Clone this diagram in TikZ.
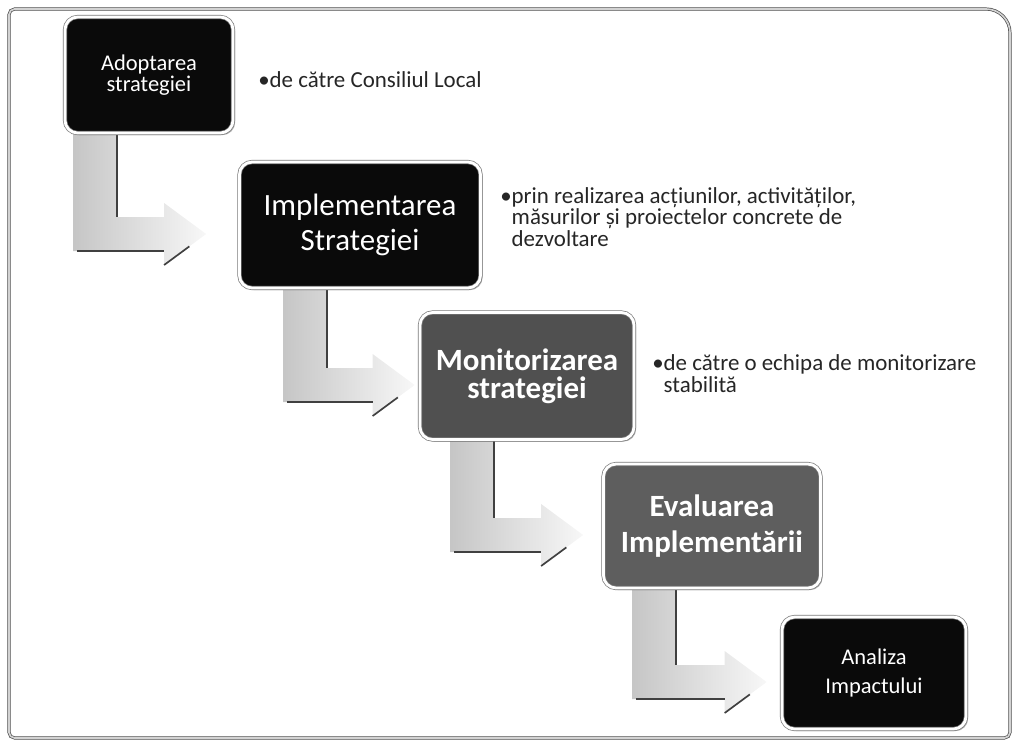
\documentclass[tikz,border=0pt]{standalone}
\usepackage{fontspec}
\setmainfont{Carlito}
\usepackage{tikz}
\usetikzlibrary{calc,shadows,backgrounds}
\definecolor{boxBlack}{HTML}{0A0A0A}
\definecolor{boxGrey}{HTML}{505050}
\definecolor{boxGreyL}{HTML}{5E5E5E}
\definecolor{ink}{HTML}{262626}
\definecolor{frameGrey}{HTML}{7A7A7A}

% bent block arrow: #1 from box, #2 to box, #3 shaft left x, #4 gap before box
\newcommand{\bentarrow}[4]{%
  \coordinate (top) at (#3,0 |- #1.south);
  \coordinate (tip) at ($(#2.west)+(-#4,9)$);
  \coordinate (inner) at ($(top)+(44,0)$);
  \coordinate (ut) at ($(tip)+(-42,-17)$);
  \coordinate (lt) at ($(tip)+(-42,17)$);
  \coordinate (uh) at ($(tip)+(-42,-31)$);
  \coordinate (lh) at ($(tip)+(-42,31)$);
  \shade[arrowfill] (top) -- (inner) -- (inner |- ut) -- (ut) -- (uh) -- (tip)
    -- (lh) -- (lt) -- (top |- lt) -- cycle;
  \draw[arrowedge] (inner) -- (inner |- ut);
  \draw[arrowedge] ($(top |- lt)+(4,0)$) -- (lt);
  \draw[arrowedge] (lh) -- ($(lh)!0.6!(tip)$);
}

\begin{document}
\begin{tikzpicture}[x=0.025cm,y=-0.025cm,
  stage/.style={rounded corners=9pt,draw=frameGrey,double=white,double distance=2pt,
    line width=.5pt,text=white,align=center,inner sep=0pt,
    drop shadow={shadow xshift=1.5pt,shadow yshift=-1.5pt,opacity=.6}},
  note/.style={text=ink,font=\fontsize{16.3}{14}\selectfont,inner sep=0pt},
  arrowfill/.style={left color=gray!45,right color=gray!6},
  arrowedge/.style={draw=black!75,line width=1.2pt}]
\useasboundingbox (0,0) rectangle (1016,744);
% --- frame ---
\draw[draw=gray!60!black,double=gray!35,double distance=1.2pt,line width=.5pt]
  (9,738) [rounded corners=4pt] -- (9,9) [rounded corners=0.6cm] -- (1010,9)
  [rounded corners=4pt] -- (1010,738) -- cycle;
% --- stages ---
\node[stage,fill=boxBlack,minimum width=4.2cm,minimum height=2.9cm,
  font=\fontsize{16}{15}\selectfont] (adopt) at (149,75) {Adoptarea\\strategiei};
\node[stage,fill=boxBlack,minimum width=6.025cm,minimum height=3.15cm,
  font=\fontsize{22}{25}\selectfont] (impl) at (360,225) {Implementarea\\Strategiei};
\node[stage,fill=boxGrey,minimum width=5.35cm,minimum height=3.175cm,
  font=\fontsize{22}{20}\selectfont\bfseries] (monit) at (527,376) {Monitorizarea\\strategiei};
\node[stage,fill=boxGreyL,minimum width=5.425cm,minimum height=3.1cm,
  font=\fontsize{22}{26}\selectfont\bfseries] (eval) at (712,526) {Evaluarea\\Implementării};
\node[stage,fill=boxBlack,minimum width=4.6cm,minimum height=2.8cm,
  font=\fontsize{16}{21}\selectfont] (impact) at (874,673) {Analiza\\Impactului};
% --- notes ---
\node[note,anchor=base west] (tAdopt) at (258,87) {•de către Consiliul Local};
\node[note,anchor=base west] (tImpl) at (500,203) {\begin{tabular}[t]{@{}l@{}l@{}}
  •&prin realizarea acțiunilor, activităților,\\
   &măsurilor și proiectelor concrete de\\
   &dezvoltare\end{tabular}};
\node[note,anchor=base west,font=\fontsize{16.3}{16}\selectfont] (tMonit) at (652,370)
  {\begin{tabular}[t]{@{}l@{}l@{}}
  •&de către o echipa de monitorizare\\
   &stabilită\end{tabular}};
% --- arrows ---
\begin{scope}[on background layer]
  \bentarrow{adopt}{impl}{73}{33}
  \bentarrow{impl}{monit}{283}{5}
  \bentarrow{monit}{eval}{450}{20}
  \bentarrow{eval}{impact}{632}{15}
\end{scope}
\end{tikzpicture}
\end{document}
